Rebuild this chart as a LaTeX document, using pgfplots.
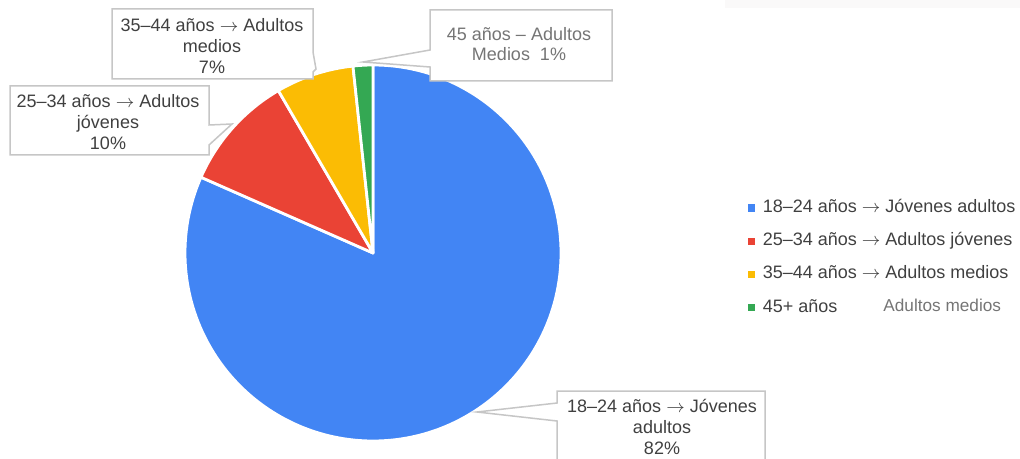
\documentclass[border=0pt]{standalone}
\usepackage{pgfplots}
\pgfplotsset{compat=1.18}
\usepackage{pgfplotstable}
\usepackage{fontspec}
\setmainfont{Liberation Sans}
\newcommand\ar{\ensuremath{\rightarrow}}
\definecolor{pieblue}{HTML}{4285F4}
\definecolor{piered}{HTML}{EA4335}
\definecolor{pieyellow}{HTML}{FBBC04}
\definecolor{piegreen}{HTML}{34A853}
\definecolor{txt}{HTML}{404040}
\definecolor{txtlight}{HTML}{757575}
\definecolor{boxline}{HTML}{C6C6C6}
\definecolor{topbar}{HTML}{FAF9F9}

\pgfplotstableread{
value
81.6
10.0
6.7
1.7
}\piedata

\begin{document}
\begin{tikzpicture}
\pgfplotstablegetelem{0}{value}\of\piedata \let\vA\pgfplotsretval
\pgfplotstablegetelem{1}{value}\of\piedata \let\vB\pgfplotsretval
\pgfplotstablegetelem{2}{value}\of\piedata \let\vC\pgfplotsretval
\pgfplotstablegetelem{3}{value}\of\piedata \let\vD\pgfplotsretval
\pgfmathsetmacro\aA{90-3.6*\vA}
\pgfmathsetmacro\aB{\aA-3.6*\vB}
\pgfmathsetmacro\aC{\aB-3.6*\vC}
\pgfmathsetmacro\aD{\aC-3.6*\vD}
\def\R{94pt}
\begin{axis}[
  x=0.5pt, y=0.5pt, xmin=0, xmax=1020, ymin=0, ymax=459,
  y dir=reverse, hide axis, clip=false, scale only axis,
  legend cell align=left,
  legend image code/.code={\fill[#1] (0pt,-1.6pt) rectangle (3.2pt,1.6pt);},
  legend style={draw=none, fill=none, inner sep=0pt, outer sep=0pt,
    at={(axis cs:748,199)}, anchor=north west,
    font=\fontsize{9}{11}\selectfont, text=txt,
    row sep=7.6pt, column sep=3.8pt,
    nodes={inner sep=0pt, text height=6.8pt, text depth=2.2pt}},
]
\addlegendimage{pieblue}
\addlegendentry{18–24 años \ar{} Jóvenes adultos}
\addlegendimage{piered}
\addlegendentry{25–34 años \ar{} Adultos jóvenes}
\addlegendimage{pieyellow}
\addlegendentry{35–44 años \ar{} Adultos medios}
\addlegendimage{piegreen}
\addlegendentry{45+ años}

\coordinate (BL) at (axis cs:0,459);
\coordinate (TR) at (axis cs:1020,0);
\fill[topbar] (axis cs:725,0) rectangle (axis cs:1020,8);

% pie wedges
\filldraw[fill=pieblue, draw=white, line width=1.4pt, line join=round]
  (axis cs:373,253) -- ++(90:\R) arc[start angle=90, end angle=\aA, radius=\R] -- cycle;
\filldraw[fill=piered, draw=white, line width=1.4pt, line join=round]
  (axis cs:373,253) -- ++(\aA:\R) arc[start angle=\aA, end angle=\aB, radius=\R] -- cycle;
\filldraw[fill=pieyellow, draw=white, line width=1.4pt, line join=round]
  (axis cs:373,253) -- ++(\aB:\R) arc[start angle=\aB, end angle=\aC, radius=\R] -- cycle;
\filldraw[fill=piegreen, draw=white, line width=1.4pt, line join=round]
  (axis cs:373,253) -- ++(\aC:\R) arc[start angle=\aC, end angle=\aD, radius=\R] -- cycle;

% callouts
\filldraw[fill=white, draw=boxline, line width=0.75pt]
  (axis cs:112,9) -- (axis cs:313,9) -- (axis cs:313,52) -- (axis cs:316,69)
  -- (axis cs:313,72) -- (axis cs:313,79) -- (axis cs:112,79) -- cycle;
\node[align=center, text=txt, font=\fontsize{9}{10.5}\selectfont, inner sep=0pt]
  at (axis cs:212,46) {35–44 años \ar{} Adultos\\medios\\7\%};

\filldraw[fill=white, draw=boxline, line width=0.75pt]
  (axis cs:10,86) -- (axis cs:209,86) -- (axis cs:209,125) -- (axis cs:232,124)
  -- (axis cs:209,145) -- (axis cs:209,155) -- (axis cs:10,155) -- cycle;
\node[align=center, text=txt, font=\fontsize{9}{10.5}\selectfont, inner sep=0pt]
  at (axis cs:108,122) {25–34 años \ar{} Adultos\\jóvenes\\10\%};

\filldraw[fill=white, draw=boxline, line width=0.75pt]
  (axis cs:430,10) -- (axis cs:612,10) -- (axis cs:612,81) -- (axis cs:430,81)
  -- (axis cs:430,67) -- (axis cs:363,62) -- (axis cs:430,50) -- cycle;
\node[align=center, text=txtlight, font=\fontsize{9}{10}\selectfont, inner sep=0pt]
  at (axis cs:519,44) {45 años – Adultos\\Medios\ \ 1\%};

\filldraw[fill=white, draw=boxline, line width=0.75pt]
  (axis cs:557,391) -- (axis cs:765,391) -- (axis cs:765,475) -- (axis cs:557,475)
  -- (axis cs:557,421) -- (axis cs:477,412) -- (axis cs:557,403) -- cycle;
\node[align=center, text=txt, font=\fontsize{9}{10.3}\selectfont, inner sep=0pt]
  at (axis cs:662,427) {18–24 años \ar{} Jóvenes\\adultos\\82\%};

\node[anchor=west, text=txtlight, font=\fontsize{8.6}{10}\selectfont, inner sep=0pt]
  at (axis cs:883,305) {Adultos medios};
\end{axis}
\pgfresetboundingbox
\path (BL) rectangle (TR);
\end{tikzpicture}
\end{document}
